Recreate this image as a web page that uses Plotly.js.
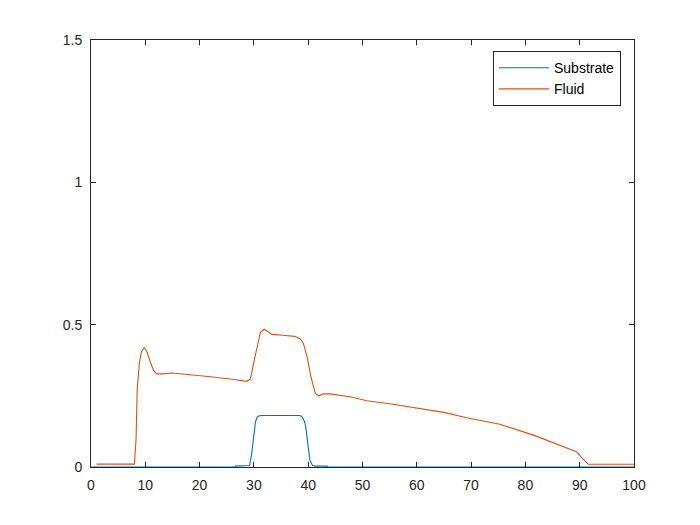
<!DOCTYPE html>
<html><head><meta charset="utf-8">
<script src="https://cdn.plot.ly/plotly-3.0.1.min.js"></script>
<style>html,body{margin:0;padding:0;background:#fff}</style>
</head><body>
<div id="chart" style="width:700px;height:525px"></div>
<script>
var substrateX = [0, 26.5, 26.6, 29.0, 29.2, 29.6, 29.9, 30.3, 30.6, 31.0, 31.5, 38.3, 38.8, 39.2, 39.5, 39.9, 40.3, 40.8, 41.3, 43.5, 43.6, 100];
var substrateY = [0, 0, 0.003, 0.003, 0.005, 0.048, 0.106, 0.159, 0.175, 0.18, 0.181, 0.181, 0.178, 0.165, 0.148, 0.083, 0.025, 0.005, 0.003, 0.003, 0, 0];
var fluidX = [1, 8.0, 8.3, 8.5, 8.9, 9.3, 9.8, 10.3, 10.9, 11.5, 12.1, 13.0, 14.9, 18, 22, 26, 28.7, 29.3, 29.6, 30.0, 30.5, 31.2, 31.9, 32.5, 33.3, 35.4, 37.5, 38.5, 39.1, 39.8, 40.5, 41.3, 41.9, 42.8, 44.0, 47.7, 50.8, 55, 60, 65, 69.2, 75.3, 81.5, 86.4, 88.5, 89.4, 90.5, 91.6, 100];
var fluidY = [0.01, 0.01, 0.1, 0.27, 0.365, 0.405, 0.42, 0.405, 0.37, 0.34, 0.327, 0.327, 0.33, 0.325, 0.317, 0.308, 0.301, 0.308, 0.33, 0.37, 0.41, 0.473, 0.484, 0.476, 0.466, 0.463, 0.459, 0.451, 0.435, 0.387, 0.317, 0.259, 0.25, 0.257, 0.257, 0.247, 0.233, 0.222, 0.208, 0.192, 0.173, 0.15, 0.112, 0.077, 0.062, 0.054, 0.03, 0.0095, 0.0095];
var xTicks = [0, 10, 20, 30, 40, 50, 60, 70, 80, 90, 100];
var yTicks = [0, 0.5, 1, 1.5];
var yTickText = ['0', '0.5', '1', '1.5'];

var traces = [
  {x: substrateX, y: substrateY, type: 'scatter', mode: 'lines', name: 'Substrate',
   line: {color: '#0072BD', width: 1.1}},
  {x: fluidX, y: fluidY, type: 'scatter', mode: 'lines', name: 'Fluid',
   line: {color: '#D95319', width: 1.1}}
];
var axisCommon = {
  showgrid: false, zeroline: false, showline: true, mirror: 'ticks',
  linecolor: '#262626', linewidth: 1, ticks: 'inside', ticklen: 5,
  tickcolor: '#262626', tickfont: {family: 'Liberation Sans, Arial, sans-serif', size: 14, color: '#262626'}
};
var layout = {
  width: 700, height: 525,
  margin: {l: 91, r: 66, t: 40, b: 58},
  paper_bgcolor: '#ffffff', plot_bgcolor: '#ffffff',
  xaxis: Object.assign({}, axisCommon, {range: [0, 100], tickvals: xTicks, ticktext: xTicks.map(String), ticklabelstandoff: 5}),
  yaxis: Object.assign({}, axisCommon, {range: [0, 1.5], tickvals: yTicks, ticktext: yTickText, ticklabelstandoff: 5}),
  showlegend: true,
  legend: {x: 0.976, y: 0.974, xanchor: 'right', yanchor: 'top',
    bordercolor: '#262626', borderwidth: 1, bgcolor: '#ffffff',
    font: {family: 'Liberation Sans, Arial, sans-serif', size: 14, color: '#000'},
    tracegroupgap: 0, itemwidth: 50}
};
Plotly.newPlot('chart', traces, layout, {displayModeBar: false, staticPlot: true});
</script>
</body></html>
